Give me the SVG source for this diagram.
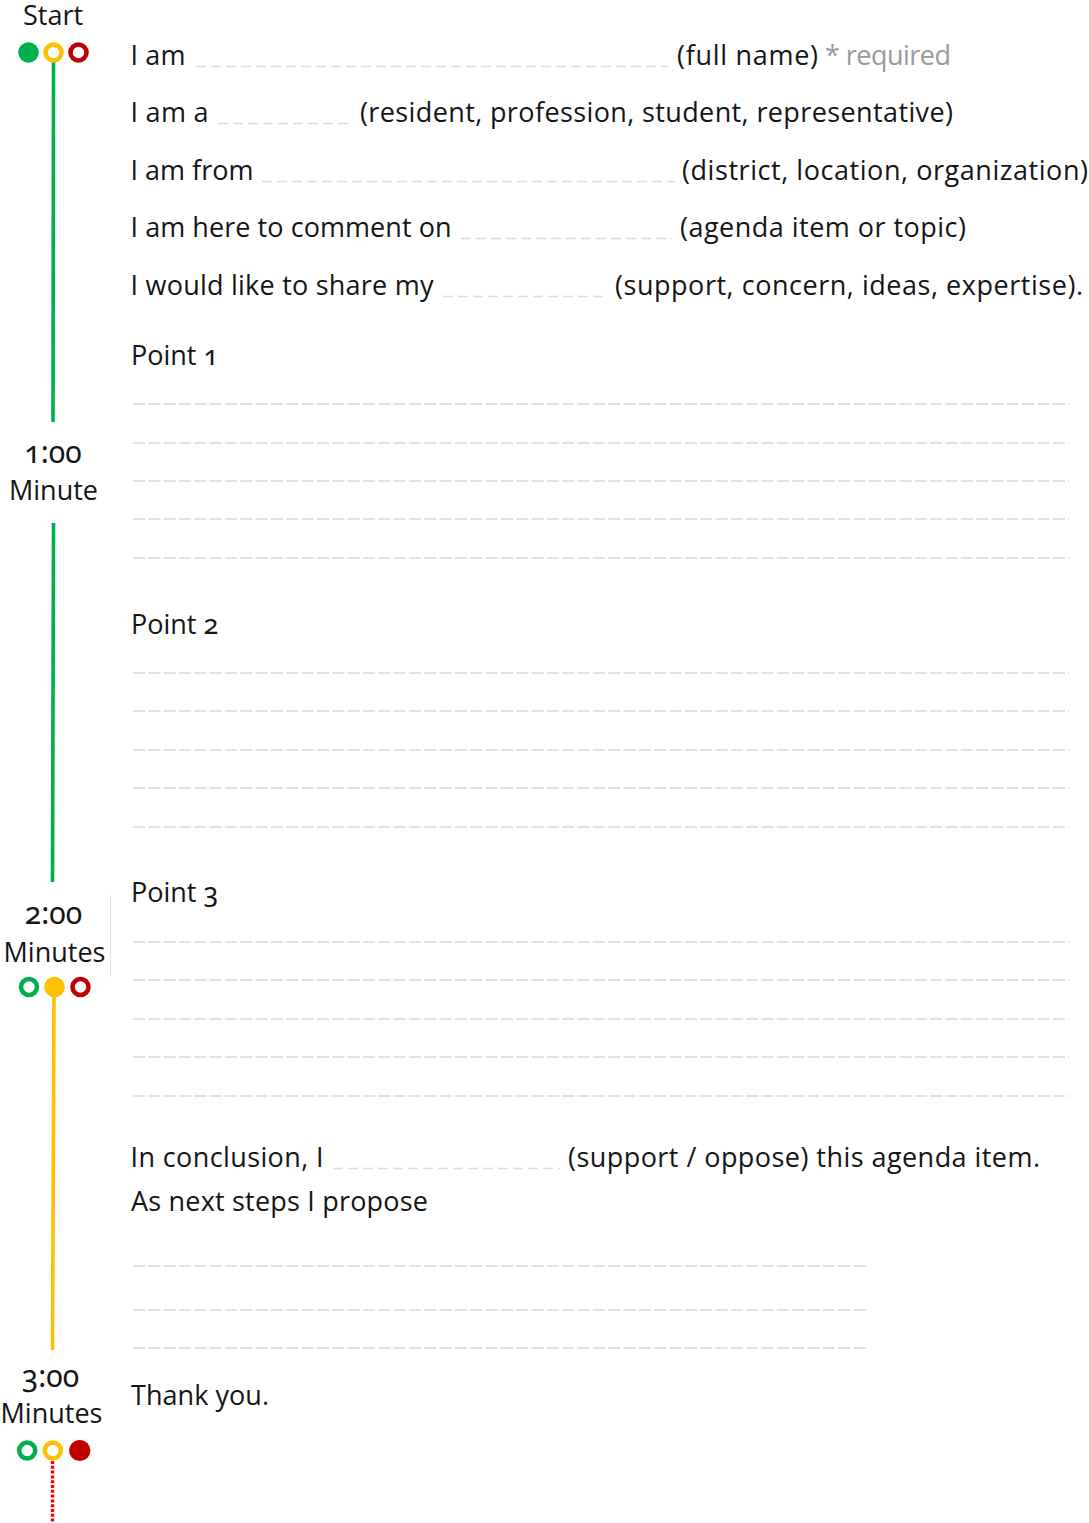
<svg xmlns="http://www.w3.org/2000/svg" width="1089" height="1523" viewBox="0 0 1089 1523">
<style>
  text { font-family: "Open Sans", "Noto Sans", "Liberation Sans", sans-serif; font-size: 27px; fill: #151515; }
  .num { font-family: "Noto Sans", "Open Sans", sans-serif; font-variant-numeric: oldstyle-nums; font-feature-settings: "onum" 1; }
  .time { font-size: 30px; }
  .c { text-anchor: middle; }
  .req { fill: #9a9a9a; }
  .blank { stroke: #dcdcdc; stroke-width: 1.5; stroke-dasharray: 10 5; fill: none; }
  .rule { stroke: #e2e2e2; stroke-width: 2; stroke-dasharray: 12 3.33; fill: none; }
  .fg { fill: #00b050; } .fy { fill: #ffc000; } .fr { fill: #c00000; }
  .rg { fill: #fff; stroke: #00b050; stroke-width: 4.6; }
  .ry { fill: #fff; stroke: #ffc000; stroke-width: 4.6; }
  .rr { fill: #fff; stroke: #c00000; stroke-width: 4.6; }
</style>
<rect width="1089" height="1523" fill="#ffffff"/>

<g id="connectors">
  <line x1="53.5" y1="62" x2="53" y2="422" stroke="#00b050" stroke-width="3.6"/>
  <line x1="53.5" y1="523" x2="52.5" y2="882" stroke="#00b050" stroke-width="3.6"/>
  <line x1="54" y1="997" x2="52.5" y2="1350" stroke="#ffc000" stroke-width="3.6"/>
  <line x1="52.5" y1="1461" x2="52.5" y2="1523" stroke="#ff0000" stroke-width="3.4" stroke-dasharray="3 1.8"/>
  <line x1="110.5" y1="895" x2="110.5" y2="977" stroke="#e0e0e0" stroke-width="1"/>
</g>

<g id="start">
  <text class="c" x="53" y="25">Start</text>
  <circle class="fg" cx="28.5" cy="52.5" r="10.3"/>
  <circle class="ry" cx="53.5" cy="52.5" r="8"/>
  <circle class="rr" cx="78.5" cy="52.5" r="8"/>
</g>

<g id="minute1">
  <text class="c num time" x="53" y="463">1:00</text>
  <text class="c" x="53.5" y="500">Minute</text>
</g>

<g id="minute2">
  <text class="c num time" x="53.5" y="924">2:00</text>
  <text class="c" x="54.5" y="962">Minutes</text>
  <circle class="rg" cx="29" cy="987" r="8"/>
  <circle class="fy" cx="54.5" cy="987" r="10.3"/>
  <circle class="rr" cx="80.5" cy="987" r="8"/>
</g>

<g id="minute3">
  <text class="c num time" x="50.5" y="1387">3:00</text>
  <text class="c" x="51.5" y="1423">Minutes</text>
  <circle class="rg" cx="27.2" cy="1450.5" r="8"/>
  <circle class="ry" cx="52.8" cy="1450.5" r="8"/>
  <circle class="fr" cx="79.8" cy="1450.5" r="10.6"/>
</g>

<g id="intro">
  <text x="130.5" y="65" textLength="55">I am</text>
  <line class="blank" x1="196" y1="66.5" x2="668" y2="66.5"/>
  <text x="677" y="65" textLength="141">(full name)</text>
  <text class="req" x="825" y="65" textLength="126">* required</text>

  <text x="130.5" y="122" textLength="78">I am a</text>
  <line class="blank" x1="218" y1="123.5" x2="352" y2="123.5"/>
  <text x="360" y="122" textLength="593">(resident, profession, student, representative)</text>

  <text x="130.5" y="180" textLength="123">I am from</text>
  <line class="blank" x1="262" y1="181.5" x2="675" y2="181.5"/>
  <text x="682" y="180" textLength="406">(district, location, organization)</text>

  <text x="130.5" y="237" textLength="321">I am here to comment on</text>
  <line class="blank" x1="461" y1="238.5" x2="672" y2="238.5"/>
  <text x="680" y="237" textLength="286">(agenda item or topic)</text>

  <text x="130.5" y="295" textLength="303">I would like to share my</text>
  <line class="blank" x1="443" y1="296.5" x2="607" y2="296.5"/>
  <text x="615" y="295" textLength="468">(support, concern, ideas, expertise).</text>
</g>

<g id="point1">
  <text x="131" y="365">Point <tspan class="num">1</tspan></text>
  <line class="rule" x1="133" y1="404" x2="1069" y2="404"/>
  <line class="rule" x1="133" y1="443" x2="1069" y2="443"/>
  <line class="rule" x1="133" y1="481" x2="1069" y2="481"/>
  <line class="rule" x1="133" y1="519" x2="1069" y2="519"/>
  <line class="rule" x1="133" y1="558" x2="1069" y2="558"/>
</g>

<g id="point2">
  <text x="131" y="634">Point <tspan class="num">2</tspan></text>
  <line class="rule" x1="133" y1="673" x2="1069" y2="673"/>
  <line class="rule" x1="133" y1="711" x2="1069" y2="711"/>
  <line class="rule" x1="133" y1="750" x2="1069" y2="750"/>
  <line class="rule" x1="133" y1="788" x2="1069" y2="788"/>
  <line class="rule" x1="133" y1="827" x2="1069" y2="827"/>
</g>

<g id="point3">
  <text x="131" y="902">Point <tspan class="num">3</tspan></text>
  <line class="rule" x1="133" y1="942" x2="1069" y2="942"/>
  <line class="rule" x1="133" y1="980" x2="1069" y2="980"/>
  <line class="rule" x1="133" y1="1019" x2="1069" y2="1019"/>
  <line class="rule" x1="133" y1="1057" x2="1069" y2="1057"/>
  <line class="rule" x1="133" y1="1096" x2="1069" y2="1096"/>
</g>

<g id="conclusion">
  <text x="130.5" y="1167" textLength="193">In conclusion, I</text>
  <line class="blank" x1="333" y1="1168.5" x2="560" y2="1168.5"/>
  <text x="568" y="1167" textLength="472">(support / oppose) this agenda item.</text>
  <text x="131" y="1211" textLength="297">As next steps I propose</text>
  <line class="rule" x1="133" y1="1266" x2="869" y2="1266"/>
  <line class="rule" x1="133" y1="1310" x2="869" y2="1310"/>
  <line class="rule" x1="133" y1="1348" x2="869" y2="1348"/>
</g>

<g id="closing">
  <text x="131" y="1405" textLength="138">Thank you.</text>
</g>
</svg>
